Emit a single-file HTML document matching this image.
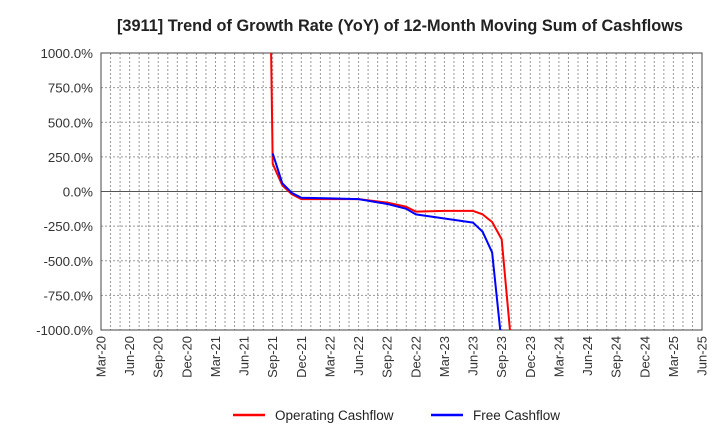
<!DOCTYPE html>
<html><head><meta charset="utf-8"><style>
body{margin:0;background:#fff;font-family:"Liberation Sans",Arial,sans-serif}
</style></head><body>
<svg width="720" height="440" viewBox="0 0 720 440" xmlns="http://www.w3.org/2000/svg">
<text x="400" y="31" text-anchor="middle" font-size="16.3" font-weight="bold" fill="#222">[3911]  Trend of Growth Rate (YoY) of 12-Month Moving Sum of Cashflows</text>
<defs><clipPath id="pc"><rect x="101" y="53" width="601" height="277"/></clipPath></defs>
<g id="grid"></g><g id="axes"></g><g id="series" clip-path="url(#pc)"></g>
<g>
<line x1="233" y1="415" x2="265" y2="415" stroke="#f00" stroke-width="2.5"/>
<text x="275" y="420" font-size="13.5" fill="#222">Operating Cashflow</text>
<line x1="431" y1="415" x2="463" y2="415" stroke="#00f" stroke-width="2.5"/>
<text x="473" y="420" font-size="13.5" fill="#222">Free Cashflow</text>
</g>
</svg>
<script>
const xTickLabels=["Mar-20","Jun-20","Sep-20","Dec-20","Mar-21","Jun-21","Sep-21","Dec-21","Mar-22","Jun-22","Sep-22","Dec-22","Mar-23","Jun-23","Sep-23","Dec-23","Mar-24","Jun-24","Sep-24","Dec-24","Mar-25","Jun-25"];
const yTicks=[1000,750,500,250,0,-250,-500,-750,-1000];
const opMonths=[17,18,19,20,21,24,27,30,32,33,36,39,40,41,42,43];
const opValues=[5000,200,45,-20,-55,-55,-55,-80,-110,-145,-140,-140,-165,-220,-345,-1100];
const fcMonths=[18,19,20,21,24,27,30,32,33,39,40,41,42];
const fcValues=[275,60,-10,-45,-50,-55,-90,-125,-165,-225,-290,-440,-1100];
const L=101,R=702,T=53,B=330,NM=63;
const xs=m=>L+(R-L)*m/NM;
const ys=v=>T+(B-T)*(1000-v)/2000;
const ns="http://www.w3.org/2000/svg";
function mk(t,a,p){const e=document.createElementNS(ns,t);for(const k in a)e.setAttribute(k,a[k]);p.appendChild(e);return e;}
const g=document.getElementById('grid'),ax=document.getElementById('axes'),s=document.getElementById('series');
for(let m=1;m<NM;m++){const l=mk('line',{x1:xs(m),x2:xs(m),y1:T,y2:B,stroke:'#999','stroke-dasharray':'2,2','stroke-width':1},g);

}
yTicks.forEach(v=>{const l=mk('line',{x1:L,x2:R,y1:ys(v),y2:ys(v),stroke:v===0?'#555':'#999','stroke-dasharray':v===0?'none':'2,2','stroke-width':1},g);


const t=mk('text',{x:93,y:ys(v)+5,'text-anchor':'end','font-size':13.3,fill:'#333'},ax);t.textContent=v.toFixed(1)+'%';

});
const fr=mk('rect',{x:L,y:T,width:R-L,height:B-T,fill:'none',stroke:'#444','stroke-width':1},ax);


xTickLabels.forEach((lab,i)=>{const x=xs(i*3);const t=mk('text',{x:x+4.5,y:336,'text-anchor':'end','font-size':13,fill:'#333',transform:`rotate(-90 ${x+4.5} 336)`},ax);t.textContent=lab;

});
function line(ms,vs,c,n){const p=mk('polyline',{points:ms.map((m,i)=>xs(m)+','+ys(vs[i])).join(' '),fill:'none',stroke:c,'stroke-width':2,'stroke-linejoin':'round'},s);

}
line(opMonths,opValues,'#f00','operating-cashflow-line');
line(fcMonths,fcValues,'#00f','free-cashflow-line');
</script>
</body></html>
